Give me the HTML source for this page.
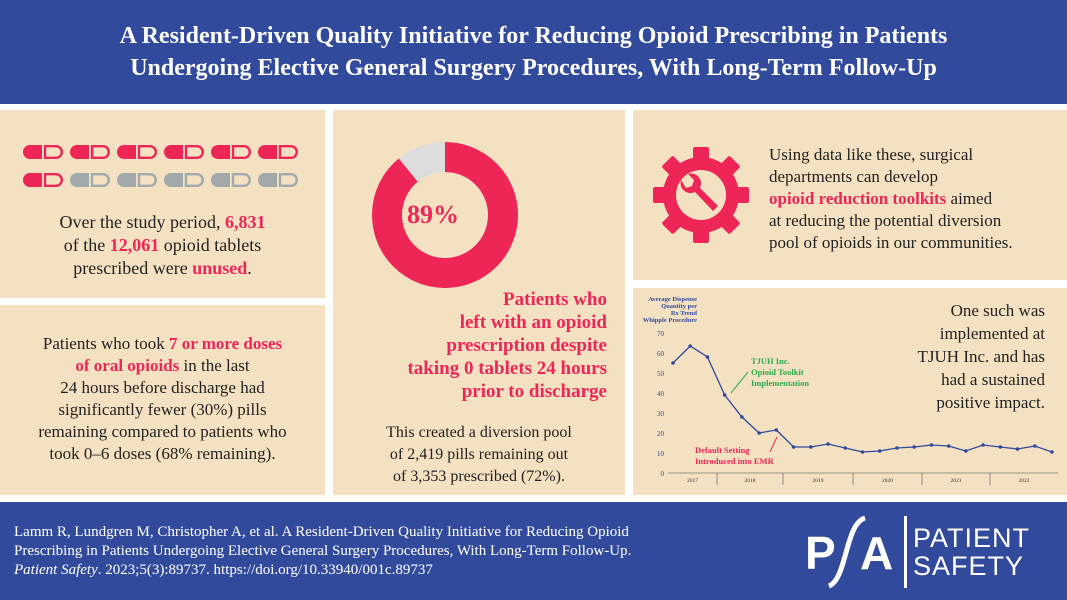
<!DOCTYPE html>
<html><head><meta charset="utf-8"><style>
body{margin:0;width:1067px;height:600px;overflow:hidden;background:#fff;font-family:"Liberation Serif",serif;position:relative}
.p{position:absolute;background:#f3e1c1}
.r{color:#ee2657;font-weight:bold}
.t{position:absolute;text-align:center;font-size:17px;line-height:22px;color:#222}
</style></head><body>
<div style="position:absolute;left:0;top:0;width:1067px;height:104px;background:#324a9c;color:#fff;font-weight:bold;font-size:24px;line-height:32px;text-align:center;padding-top:20px;box-sizing:border-box">A Resident-Driven Quality Initiative for Reducing Opioid Prescribing in Patients<br>Undergoing Elective General Surgery Procedures, With Long-Term Follow-Up</div>

<div class="p" style="left:0;top:110px;width:325px;height:188px">
<svg width="325" height="70" style="position:absolute;left:0;top:32px" id="pills"></svg>
<div class="t" style="left:0;top:101px;width:325px;font-size:18px;line-height:23px">Over the study period, <span class="r">6,831</span><br>of the <span class="r">12,061</span> opioid tablets<br>prescribed were <span class="r">unused</span>.</div>
</div>
<div class="p" style="left:0;top:305px;width:325px;height:190px">
<div class="t" style="left:0;top:28px;width:325px">Patients who took <span class="r">7 or more doses<br>of oral opioids</span> in the last<br>24 hours before discharge had<br>significantly fewer (30%) pills<br>remaining compared to patients who<br>took 0–6 doses (68% remaining).</div>
</div>
<div class="p" style="left:333px;top:110px;width:292px;height:385px">
<svg width="292" height="200" style="position:absolute;left:0;top:0">
<circle cx="112" cy="105" r="58" fill="none" stroke="#dcdcdc" stroke-width="30"/>
<circle cx="112" cy="105" r="58" fill="none" stroke="#ee2657" stroke-width="30" stroke-dasharray="324.3 400" transform="rotate(-90 112 105)"/>
<text x="100" y="113" text-anchor="middle" font-size="26" font-weight="bold" fill="#ee2657" font-family="Liberation Serif">89%</text>
</svg>
<div style="position:absolute;right:18px;top:178px;text-align:right;font-size:19px;line-height:23px;font-weight:bold;color:#ee2657">Patients who<br>left with an opioid<br>prescription despite<br>taking 0 tablets 24 hours<br>prior to discharge</div>
<div class="t" style="left:0;top:312px;width:292px;font-size:16px">This created a diversion pool<br>of 2,419 pills remaining out<br>of 3,353 prescribed (72%).</div>
</div>
<div class="p" style="left:633px;top:110px;width:434px;height:170px">
<svg width="100" height="100" style="position:absolute;left:18px;top:35px" viewBox="0 0 100 100">
<g fill="#ee2657"><circle cx="50" cy="50" r="38"/>
<g id="teeth"></g></g>
<circle cx="50" cy="50" r="25" fill="#f3e1c1"/>
<path d="M30 35 a10 10 0 0 0 14 12 L62 66 l5 -5 L49 43 a10 10 0 0 0 -12 -14 l6 6 -2 6 -6 2z" fill="#ee2657"/>
</svg>
<div style="position:absolute;left:136px;top:34px;font-size:17px;line-height:22px;color:#222">Using data like these, surgical<br>departments can develop<br><span class="r">opioid reduction toolkits</span> aimed<br>at reducing the potential diversion<br>pool of opioids in our communities.</div>
</div>
<div class="p" style="left:633px;top:288px;width:434px;height:207px"></div>
<div style="position:absolute;right:22px;top:299px;text-align:right;font-size:17px;line-height:23px;color:#222">One such was<br>implemented at<br>TJUH Inc. and has<br>had a sustained<br>positive impact.</div>
<svg id="chart" width="1067" height="600" style="position:absolute;left:0;top:0">
<text x="697" y="301" text-anchor="end" font-size="6.5" font-weight="bold" fill="#324a9c">Average Dispense</text>
<text x="697" y="308" text-anchor="end" font-size="6.5" font-weight="bold" fill="#324a9c">Quantity per</text>
<text x="697" y="315" text-anchor="end" font-size="6.5" font-weight="bold" fill="#324a9c">Rx Trend</text>
<text x="697" y="322" text-anchor="end" font-size="6.5" font-weight="bold" fill="#324a9c">Whipple Procedure</text>
<text x="751" y="364" font-size="8.5" font-weight="bold" fill="#2eaa4a">TJUH Inc.</text>
<text x="751" y="375" font-size="8.5" font-weight="bold" fill="#2eaa4a">Opioid Toolkit</text>
<text x="751" y="386" font-size="8.5" font-weight="bold" fill="#2eaa4a">Implementation</text>
<line x1="748" y1="372" x2="731" y2="393" stroke="#2eaa4a"/>
<text x="695" y="453" font-size="8.5" font-weight="bold" fill="#ee2657">Default Setting</text>
<text x="695" y="464" font-size="8.5" font-weight="bold" fill="#ee2657">Introduced into EMR</text>
<line x1="770" y1="452" x2="777" y2="437" stroke="#ee2657"/>
</svg>

<div style="position:absolute;left:0;top:502px;width:1067px;height:98px;background:#324a9c"></div>
<div style="position:absolute;left:14px;top:523px;font-size:15px;line-height:19px;color:#fff">Lamm R, Lundgren M, Christopher A, et al. A Resident-Driven Quality Initiative for Reducing Opioid<br>Prescribing in Patients Undergoing Elective General Surgery Procedures, With Long-Term Follow-Up.<br><i>Patient Safety</i>. 2023;5(3):89737. https://doi.org/10.33940/001c.89737</div>
<div style="position:absolute;left:805px;top:512px;width:250px;height:80px;color:#fff;font-family:'Liberation Sans',sans-serif">
<span style="position:absolute;left:0;top:14px;font-size:46px;font-weight:bold">P</span>
<svg width="40" height="75" style="position:absolute;left:22px;top:2px"><path d="M2 72 C20 65 18 10 38 4" stroke="#fff" stroke-width="5" fill="none"/></svg>
<span style="position:absolute;left:55px;top:14px;font-size:46px;font-weight:bold">A</span>
<div style="position:absolute;left:99px;top:4px;width:3px;height:72px;background:#fff"></div>
<div style="position:absolute;left:108px;top:12px;font-size:27px;line-height:28px;letter-spacing:1px">PATIENT<br>SAFETY</div>
</div>

<script>
const years=['2017','2018','2019','2020','2021','2022'];
const values=[55,63.5,58,39,28,20,21.5,13,13,14.5,12.5,10.5,11,12.5,13,14,13.5,11,14,13,12,13.5,10.5];
const yTicks=[0,10,20,30,40,50,60,70];
const ns='http://www.w3.org/2000/svg';
const svg=document.getElementById('chart');
const x=i=>673+i*(1052-673)/(values.length-1);
const y=v=>473-v*2;
function mk(t,a){const e=document.createElementNS(ns,t);for(const k in a)e.setAttribute(k,a[k]);svg.appendChild(e);return e;}
yTicks.forEach(v=>{const e=mk('text',{x:664,y:y(v)+3,'text-anchor':'end','font-size':7,fill:'#324a9c'});e.textContent=v;

});
const ax=mk('line',{x1:668,y1:473,x2:1058,y2:473,stroke:'#777','stroke-width':0.8});


const bounds=[668,717,783,853,922,990,1058];
years.forEach((yr,i)=>{
 if(i>0){const l=mk('line',{x1:bounds[i],y1:473,x2:bounds[i],y2:485,stroke:'#777','stroke-width':0.8});
 
 }
 const t=mk('text',{x:(bounds[i]+bounds[i+1])/2,y:482,'text-anchor':'middle','font-size':5.5,fill:'#333'});t.textContent=yr;
 
 
});
const line=mk('polyline',{points:values.map((v,i)=>x(i)+','+y(v)).join(' '),fill:'none',stroke:'#324a9c','stroke-width':1.3});


values.forEach((v,i)=>{const c=mk('circle',{cx:x(i),cy:y(v),r:1.8,fill:'#324a9c'});

});

// pills
const p=document.getElementById('pills');
for(let r=0;r<2;r++)for(let i=0;i<6;i++){
 const red=r===0||i===0;const col=red?'#ee2657':'#a3a8ab';const x0=23+i*47,y0=3+r*28;
 const g=document.createElementNS(ns,'g');
 
 
 g.innerHTML=`<path d="M${x0+7} ${y0} h12 v14 h-12 a7 7 0 0 1 0 -14z" fill="${col}"/><path d="M${x0+22} ${y0+1.2} h11 a5.8 5.8 0 0 1 0 11.6 h-11z" fill="none" stroke="${col}" stroke-width="2.4"/>`;
 p.appendChild(g);
}
// gear teeth
const te=document.getElementById('teeth');
for(let k=0;k<8;k++){const r=document.createElementNS(ns,'rect');r.setAttribute('x',42);r.setAttribute('y',2);r.setAttribute('width',16);r.setAttribute('height',20);r.setAttribute('rx',2);r.setAttribute('transform',`rotate(${k*45} 50 50)`);te.appendChild(r);}
</script>
</body></html>
